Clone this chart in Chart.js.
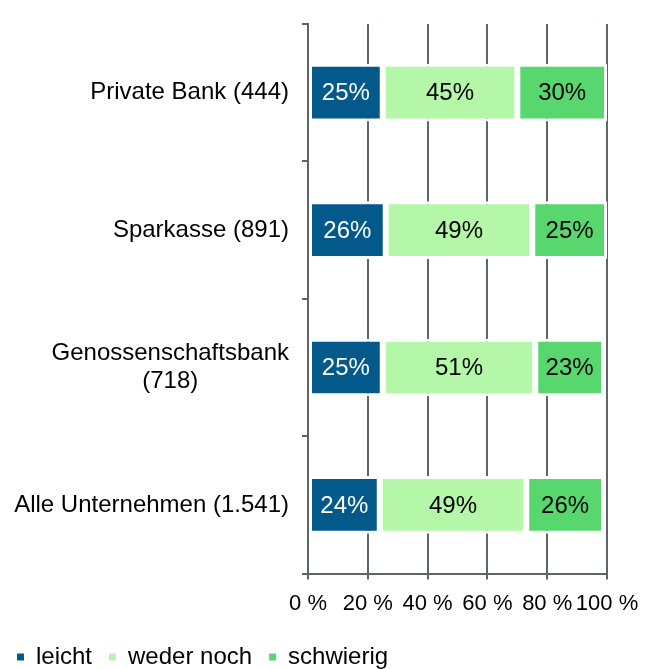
<!DOCTYPE html>
<html>
<head>
<meta charset="utf-8">
<script src="https://cdn.jsdelivr.net/npm/chart.js@4/dist/chart.umd.min.js"></script>
<style>
  body { margin: 0; background: #fff; }
  canvas { display: block; }
</style>
</head>
<body>
<canvas id="chart" width="656" height="669"></canvas>
<script>
const categories = [
  ["Private Bank (444)"],
  ["Sparkasse (891)"],
  ["Genossenschaftsbank", "(718)"],
  ["Alle Unternehmen (1.541)"]
];
const leicht = [25, 26, 25, 24];
const wederNoch = [45, 49, 51, 49];
const schwierig = [30, 25, 23, 26];
const xTicks = [0, 20, 40, 60, 80, 100];

const FONT = "'Liberation Sans', Arial, sans-serif";
const GRID = "#5d646c";

// bar value labels, centred in each segment
const valueLabels = {
  id: "valueLabels",
  afterDatasetsDraw(chart) {
    const ctx = chart.ctx;
    ctx.save();
    ctx.font = "24px " + FONT;
    ctx.textAlign = "center";
    ctx.textBaseline = "middle";
    chart.data.datasets.forEach((ds, i) => {
      chart.getDatasetMeta(i).data.forEach((bar, j) => {
        const c = bar.getCenterPoint();
        ctx.fillStyle = i === 0 ? "#ffffff" : "#000000";
        ctx.fillText(ds.data[j] + "%", c.x, c.y + 1);
      });
    });
    ctx.restore();
  }
};

// category labels: block right-aligned, lines centred inside the block
const categoryLabels = {
  id: "categoryLabels",
  afterDraw(chart) {
    const ctx = chart.ctx;
    const y = chart.scales.y;
    const right = y.right - 19;
    const lh = 28;
    ctx.save();
    ctx.font = "24px " + FONT;
    ctx.fillStyle = "#000";
    ctx.textBaseline = "middle";
    ctx.textAlign = "center";
    categories.forEach((lines, i) => {
      const cy = y.getPixelForTick(i);
      const w = Math.max(...lines.map(l => ctx.measureText(l).width));
      const top = cy - (lines.length - 1) * lh / 2;
      lines.forEach((l, k) => ctx.fillText(l, right - w / 2, top + k * lh));
    });
    ctx.restore();
  }
};

new Chart(document.getElementById("chart"), {
  type: "bar",
  data: {
    labels: categories,
    datasets: [
      { label: "leicht", data: leicht, backgroundColor: "#03598a" },
      { label: "weder noch", data: wederNoch, backgroundColor: "#b5f7a9" },
      { label: "schwierig", data: schwierig, backgroundColor: "#58d76f" }
    ]
  },
  options: {
    indexAxis: "y",
    responsive: false,
    animation: false,
    devicePixelRatio: 1,
    layout: { padding: { top: 24, right: 49, left: 0, bottom: -10 } },
    datasets: {
      bar: {
        borderColor: "#ffffff",
        borderWidth: 3,
        borderSkipped: false,
        barPercentage: 0.42,
        categoryPercentage: 1
      }
    },
    scales: {
      x: {
        stacked: true,
        min: 0,
        max: 100,
        afterBuildTicks: s => { s.ticks = xTicks.map(v => ({ value: v })); },
        ticks: {
          font: { family: FONT, size: 22 },
          color: "#000",
          padding: 11,
          maxRotation: 0,
          minRotation: 0,
          autoSkip: false,
          callback: v => v + " %"
        },
        grid: { color: GRID, lineWidth: 2, tickLength: 6 },
        border: { color: GRID, width: 2 }
      },
      y: {
        stacked: true,
        afterFit: s => { s.width = 308; },
        ticks: { color: "rgba(0,0,0,0)", font: { family: FONT, size: 24 } },
        grid: { color: GRID, lineWidth: 2, tickLength: 6, drawOnChartArea: false, offset: true },
        border: { color: GRID, width: 2 }
      }
    },
    plugins: {
      legend: {
        position: "bottom",
        align: "start",
        labels: {
          font: { family: FONT, size: 24 },
          color: "#000",
          boxWidth: 7,
          boxHeight: 7,
          padding: 17,
          generateLabels: chart =>
            Chart.defaults.plugins.legend.labels.generateLabels(chart).map(item => ({
              ...item, lineWidth: 0, strokeStyle: "rgba(0,0,0,0)"
            }))
        }
      },
      tooltip: { enabled: false }
    }
  },
  plugins: [valueLabels, categoryLabels]
});
</script>
</body>
</html>
